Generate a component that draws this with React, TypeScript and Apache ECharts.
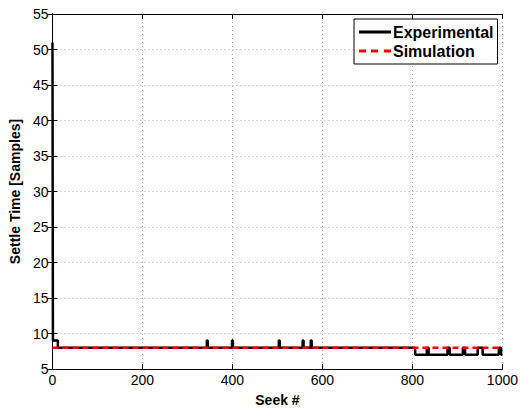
import React, { useEffect, useRef } from "react";
import * as echarts from "echarts";

const xTicks = [0, 200, 400, 600, 800, 1000];
const yTicks = [5, 10, 15, 20, 25, 30, 35, 40, 45, 50, 55];

// Experimental settle time: change points (seek #, value from that seek on)
const expSeek = [0, 1, 12, 343, 345, 399, 401, 503, 505, 556, 558, 574, 576, 806, 832, 836, 878, 883, 912, 917, 945, 956, 992, 997, 1000];
const expValue = [51, 9, 8, 9, 8, 9, 8, 9, 8, 9, 8, 9, 8, 7, 8, 7, 8, 7, 8, 7, 8, 7, 8, 7, 7];

// Simulation settle time
const simSeek = [0, 1000];
const simValue = [8, 8];

const font = "Liberation Sans, Arial, Helvetica, sans-serif";

export default function App() {
  const ref = useRef<HTMLDivElement>(null);
  useEffect(() => {
    if (!ref.current) return;
    const chart = echarts.init(ref.current, null, { renderer: "svg" });
    const expData = expSeek.map((s, i) => [s, expValue[i]]);
    const simData = simSeek.map((s, i) => [s, simValue[i]]);
    const axisCommon = {
      axisLine: { show: true, lineStyle: { color: "#000", width: 1 } },
      axisTick: { show: true, inside: true, length: 5, lineStyle: { color: "#000" } },
    };
    const xMin = xTicks[0];
    const xMax = xTicks[xTicks.length - 1];
    const xInt = xTicks[1] - xTicks[0];
    const yMin = yTicks[0];
    const yMax = yTicks[yTicks.length - 1];
    const yInt = yTicks[1] - yTicks[0];
    chart.setOption({
      animation: false,
      backgroundColor: "#fff",
      textStyle: { fontFamily: font },
      grid: { left: 48, right: 16, top: 14, bottom: 39, containLabel: false },
      legend: {
        left: 354,
        top: 19,
        orient: "vertical",
        itemWidth: 32,
        itemHeight: 3,
        itemGap: 3,
        padding: [5, 4, 5, 5],
        borderColor: "#000",
        borderWidth: 1,
        backgroundColor: "#fff",
        textStyle: { fontFamily: font, fontWeight: "bold", fontSize: 16, color: "#000", padding: [0, 0, 0, -3] },
        data: [
          { name: "Experimental", icon: "path://M0,0 L32,0 L32,3 L0,3 Z", itemStyle: { color: "#000" } },
          {
            name: "Simulation",
            icon: "path://M0,0 L7,0 L7,3 L0,3 Z M12,0 L19,0 L19,3 L12,3 Z M25,0 L32,0 L32,3 L25,3 Z",
            itemStyle: { color: "#ff0000" },
          },
        ],
      },
      xAxis: [
        {
          type: "value",
          min: xMin,
          max: xMax,
          interval: xInt,
          ...axisCommon,
          name: "Seek #",
          nameLocation: "middle",
          nameGap: 24,
          nameTextStyle: { fontFamily: font, fontWeight: "bold", fontSize: 14, color: "#000" },
          axisLabel: { fontFamily: font, fontSize: 14, color: "#000", margin: 4, formatter: (v: number) => String(v) },
          splitLine: { show: true, lineStyle: { color: "#aaa", type: [1, 3], width: 1 } },
        },
        {
          type: "value",
          position: "top",
          min: xMin,
          max: xMax,
          interval: xInt,
          ...axisCommon,
          axisLabel: { show: false },
          splitLine: { show: false },
        },
      ],
      yAxis: [
        {
          type: "value",
          min: yMin,
          max: yMax,
          interval: yInt,
          ...axisCommon,
          name: "Settle Time [Samples]",
          nameLocation: "middle",
          nameGap: 26,
          nameTextStyle: { fontFamily: font, fontWeight: "bold", fontSize: 14, color: "#000" },
          axisLabel: { fontFamily: font, fontSize: 14, color: "#000", margin: 4, formatter: (v: number) => String(v) },
          splitLine: { show: true, lineStyle: { color: "#aaa", type: [1, 3], width: 1 } },
        },
        {
          type: "value",
          position: "right",
          min: yMin,
          max: yMax,
          interval: yInt,
          ...axisCommon,
          axisLabel: { show: false },
          splitLine: { show: false },
        },
      ],
      series: [
        {
          name: "Experimental",
          type: "line",
          step: "end",
          data: expData,
          symbol: "none",
          lineStyle: { color: "#000", width: 2.5 },
          itemStyle: { color: "#000" },
        },
        {
          name: "Simulation",
          type: "line",
          data: simData,
          symbol: "none",
          lineStyle: { color: "#ff0000", width: 2.5, type: [6, 4] },
          itemStyle: { color: "#ff0000" },
        },
      ],
    });
    return () => chart.dispose();
  }, []);
  return (
    <div
      ref={ref}
      style={{ position: "absolute", left: 0, top: 0, width: 521, height: 412, background: "#fff" }}
    />
  );
}
